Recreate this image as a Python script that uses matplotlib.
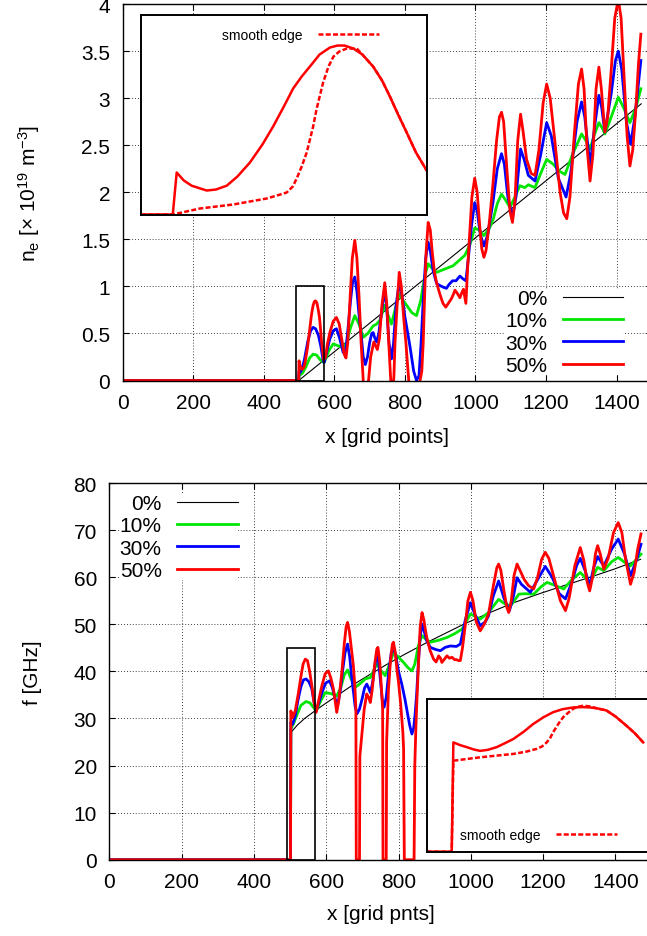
import matplotlib
matplotlib.use("Agg")
import matplotlib.pyplot as plt
from matplotlib.patches import Rectangle

plt.rcParams.update({
    "font.family": ["Liberation Sans", "DejaVu Sans"],
    "mathtext.fontset": "custom",
    "mathtext.rm": "Liberation Sans",
    "mathtext.it": "Liberation Sans:italic",
    "font.size": 15,
})

LABELS = ["0%", "10%", "30%", "50%"]
COLORS = ["black", "#00e600", "#0000ff", "#ff0000"]
WIDTHS = [0.8, 2.0, 2.0, 2.0]

# ---------------- top panel: density n_e ----------------
ne_x0 = [0, 499, 1470]
ne_0 = [0, 0, 2.94]

ne_x10 = [0, 499, 500, 510, 520, 530, 540, 550, 560, 571, 585, 597, 610, 625, 635, 645, 658,
          670, 682, 695, 710, 720, 729, 736, 743, 752, 762, 772, 784, 795, 805, 820, 833, 845,
          856, 866, 878, 890, 910, 937, 955, 970, 985, 998, 1010, 1024, 1040, 1051, 1062, 1074,
          1085, 1098, 1112, 1126, 1140, 1150, 1169, 1185, 1202, 1220, 1240, 1254, 1275, 1301,
          1313, 1325, 1338, 1350, 1360, 1367, 1385, 1405, 1420, 1438, 1455, 1469]
ne_10 = [0, 0, 0.05, 0.08, 0.15, 0.24, 0.28, 0.27, 0.22, 0.19, 0.32, 0.39, 0.37, 0.35, 0.40, 0.55, 0.69,
         0.60, 0.46, 0.50, 0.58, 0.60, 0.64, 0.72, 0.80, 0.70, 0.60, 0.75, 0.92, 0.85, 0.80, 0.72, 0.69, 0.85,
         1.10, 1.24, 1.19, 1.15, 1.18, 1.22, 1.28, 1.33, 1.45, 1.62, 1.60, 1.54, 1.62, 1.72, 1.88, 1.98,
         1.92, 1.84, 1.95, 2.07, 2.05, 2.08, 2.05, 2.20, 2.35, 2.30, 2.22, 2.19, 2.40, 2.62,
         2.55, 2.46, 2.62, 2.74, 2.68, 2.62, 2.80, 3.01, 2.90, 2.74, 2.90, 3.10]

ne_x30 = [0, 499, 500, 504, 508, 515, 525, 533, 540, 547, 555, 562, 568, 571, 578, 587, 597, 606,
          615, 625, 630, 634, 640, 646, 652, 658, 664, 670, 677, 682, 688, 694, 700, 706, 710, 715,
          720, 726, 733, 740, 743, 748, 755, 762, 768, 775, 784, 792, 800, 806, 815, 825, 833, 840,
          846, 852, 859, 866, 872, 880, 890, 899, 910, 918, 925, 935, 945, 956, 965, 973, 980,
          989, 998, 1005, 1014, 1024, 1035, 1050, 1062, 1074, 1082, 1092, 1105, 1115, 1128, 1138,
          1150, 1169, 1185, 1202, 1215, 1235, 1257, 1270, 1288, 1301, 1310, 1325, 1338, 1350,
          1358, 1367, 1385, 1397, 1405, 1415, 1428, 1440, 1452, 1462, 1469]
ne_30 = [0, 0, 0.10, 0.09, 0.12, 0.22, 0.42, 0.53, 0.565, 0.55, 0.48, 0.36, 0.22, 0.19, 0.30, 0.44, 0.53,
         0.55, 0.45, 0.30, 0.30, 0.37, 0.60, 0.85, 1.05, 1.10, 0.95, 0.70, 0.45, 0.25, 0.17, 0.25, 0.40,
         0.50, 0.51, 0.45, 0.41, 0.50, 0.70, 0.90, 0.94, 0.80, 0.40, 0.23, 0.40, 0.80, 1.04, 0.90, 0.68,
         0.55, 0.35, 0.10, 0.0, 0.05, 0.40, 0.85, 1.30, 1.47, 1.38, 1.17, 1.03, 1.01, 0.99, 0.98, 1.02,
         1.06, 1.06, 1.11, 1.08, 1.06, 1.30, 1.65, 1.89, 1.80, 1.55, 1.43, 1.55, 1.90, 2.25, 2.41,
         2.30, 1.95, 1.73, 1.95, 2.46, 2.35, 2.18, 2.12, 2.40, 2.74, 2.60, 2.15, 1.95, 2.20, 2.75,
         2.96, 2.80, 2.28, 2.70, 3.03, 2.90, 2.64, 3.05, 3.40, 3.50, 3.30, 2.75, 2.51, 2.80, 3.15, 3.40]

ne_x50 = [0, 499, 500, 502, 504, 508, 511, 514, 517, 520, 524, 527, 530, 533, 535, 537, 540, 543,
          545, 547, 550, 552, 555, 558, 560, 562, 564, 567, 570, 575, 580, 588, 597, 606, 614, 622,
          628, 633, 638, 645, 651, 658, 664, 670, 676, 682, 690, 697, 703, 712, 717, 722, 728, 735,
          743, 749, 755, 760, 766, 769, 772, 778, 784, 790, 797, 803, 810, 815, 828, 843, 848, 852,
          856, 860, 866, 872, 878, 884, 890, 899, 908, 916, 925, 932, 938, 942, 948, 956, 961, 966,
          973, 978, 984, 990, 998, 1005, 1012, 1018, 1024, 1030, 1040, 1050, 1060, 1068, 1074,
          1080, 1090, 1098, 1105, 1112, 1120, 1128, 1135, 1145, 1158, 1169, 1180, 1192, 1202,
          1212, 1225, 1240, 1250, 1259, 1268, 1280, 1292, 1301, 1308, 1316, 1325, 1333, 1342,
          1350, 1357, 1367, 1375, 1385, 1395, 1405, 1413, 1422, 1430, 1438, 1446, 1455, 1462, 1469]
ne_50 = [0, 0, 0.21, 0.17, 0.144, 0.12, 0.125, 0.144, 0.19, 0.26, 0.35, 0.44, 0.54, 0.63, 0.69, 0.74,
         0.80, 0.835, 0.845, 0.845, 0.83, 0.80, 0.74, 0.67, 0.59, 0.50, 0.41, 0.31, 0.22, 0.25, 0.38,
         0.52, 0.63, 0.67, 0.60, 0.42, 0.28, 0.24, 0.40, 0.90, 1.30, 1.49, 1.30, 0.90, 0.40, 0.0, -0.2,
         0.0, 0.25, 0.41, 0.37, 0.33, 0.45, 0.80, 1.04, 0.80, 0.35, 0.0, -0.1, 0.05, 0.40, 0.80, 1.15,
         1.00, 0.65, 0.40, 0.05, -0.2, -0.5, 0.0, 0.10, 0.40, 0.90, 1.35, 1.68, 1.60, 1.35, 1.15, 1.04,
         0.92, 0.82, 0.78, 0.83, 0.87, 0.92, 0.96, 0.93, 0.88, 0.93, 0.97, 0.82, 1.20, 1.57, 1.95,
         2.15, 2.00, 1.65, 1.40, 1.31, 1.38, 1.70, 2.10, 2.55, 2.80, 2.85, 2.75, 2.20, 1.80, 1.68,
         1.90, 2.55, 2.83, 2.65, 2.35, 2.20, 2.18, 2.45, 2.95, 3.15, 3.00, 2.55, 2.00, 1.78, 1.72,
         1.95, 2.60, 3.15, 3.31, 3.10, 2.50, 2.12, 2.40, 3.10, 3.33, 3.10, 2.64, 2.80, 3.30, 3.85,
         4.05, 3.85, 3.20, 2.60, 2.28, 2.45, 2.90, 3.35, 3.68]

# inset of the top panel (50% curve near the edge)
ne_in_x = [490, 498.9, 500, 502, 504.2, 508.4, 511, 514, 517, 520.5, 524, 527, 530, 532.6, 535,
           537.3, 540, 542.9, 545, 547, 549.5, 552, 555, 557.5, 559.7, 562, 564.4, 567, 570]
ne_in = [0, 0, 0.21, 0.17, 0.144, 0.12, 0.125, 0.144, 0.19, 0.26, 0.35, 0.44, 0.54, 0.63, 0.69,
         0.74, 0.80, 0.835, 0.845, 0.845, 0.83, 0.80, 0.74, 0.67, 0.59, 0.50, 0.41, 0.31, 0.22]
ne_in_sx = [490, 498.9, 506.5, 515.8, 525.2, 529, 530.8, 532.5, 533.6, 535, 536.4, 538.2, 539.2,
            541, 542.5, 543.9, 545.5, 547.6, 550.4, 552, 555, 557.5, 559.7, 562, 564.4, 567, 570]
ne_in_s = [0, 0, 0.03, 0.05, 0.08, 0.10, 0.11, 0.14, 0.18, 0.24, 0.31, 0.44, 0.53, 0.66, 0.74,
           0.79, 0.815, 0.83, 0.83, 0.80, 0.74, 0.67, 0.59, 0.50, 0.41, 0.31, 0.22]

# ---------------- bottom panel: frequency f ----------------
f_x0 = [0, 501, 502, 520, 540, 572, 600, 629, 675, 722, 768, 814, 880, 943, 980, 1050, 1119,
        1190, 1257, 1330, 1396, 1470]
f_0 = [0, 0, 27.0, 28.6, 30.0, 31.8, 33.3, 34.8, 37.2, 39.4, 41.5, 43.5, 46.2, 48.6, 50.0, 52.4,
       54.6, 56.5, 58.2, 60.0, 61.7, 63.8]

f_x10 = [0, 501, 502, 510, 520, 530, 544, 555, 565, 572, 585, 597, 612, 629, 640, 650, 659, 668,
         680, 695, 708, 722, 732, 740, 750, 763, 775, 786, 800, 814, 826, 837, 845, 855, 865, 876,
         888, 910, 934, 955, 976, 999, 1026, 1049, 1077, 1095, 1110, 1133, 1150, 1174, 1195,
         1211, 1235, 1257, 1280, 1303, 1316, 1329, 1351, 1368, 1390, 1408, 1425, 1442, 1471]
f_10 = [0, 0, 27.8, 29.0, 31.0, 32.8, 33.6, 33.3, 32.3, 31.6, 33.8, 35.5, 35.3, 34.8, 36.5, 39.3,
        40.3, 38.5, 36.6, 37.5, 38.4, 38.7, 40.3, 41.6, 40.3, 39.1, 41.5, 44.0, 43.0, 41.9, 40.8,
        40.1, 41.5, 45.5, 47.6, 46.8, 46.2, 46.6, 47.2, 48.0, 49.0, 52.2, 51.1, 52.5, 55.3, 54.3,
        53.9, 56.4, 56.5, 56.4, 58.0, 58.9, 58.2, 57.5, 59.5, 61.0, 60.0, 58.9, 62.1, 61.4, 63.3,
        64.2, 63.2, 62.4, 64.9]

f_x30 = [0, 501, 502, 507, 514, 522, 530, 537, 544, 552, 560, 566, 572, 580, 588, 598, 609, 617,
         625, 632, 638, 645, 652, 659, 665, 670, 675.5, 680, 685, 692, 699, 706, 712, 717, 722,
         728, 735, 740, 745, 750, 755, 760, 766, 773, 780, 786, 792, 800, 809, 818, 825, 831, 837,
         842, 846, 850, 855, 860, 865, 871, 878, 888, 898, 905, 916, 929, 943, 960, 971, 985,
         999, 1012, 1026, 1040, 1049, 1062, 1077, 1092, 1107, 1118, 1128, 1140, 1165, 1185, 1206,
         1225, 1245, 1262, 1280, 1293, 1303, 1316, 1329, 1340, 1351, 1368, 1390, 1408, 1425,
         1442, 1458, 1471]
f_30 = [0, 0, 29.2, 28.8, 30.5, 34.0, 36.8, 38.2, 38.4, 37.8, 36.3, 33.5, 31.6, 33.5, 35.5, 37.5,
        38.0, 36.5, 34.1, 33.1, 35.5, 40.0, 44.0, 45.8, 43.0, 39.0, 35.5, 32.5, 31.0, 32.0, 34.1,
        36.5, 37.3, 36.5, 35.5, 37.5, 41.5, 43.3, 42.0, 38.0, 34.0, 32.4, 34.5, 40.0, 44.0, 45.1,
        43.5, 40.0, 37.3, 34.0, 31.0, 28.5, 26.7, 28.0, 31.0, 35.0, 42.0, 47.5, 50.0, 48.5, 46.5,
        45.1, 44.8, 44.6, 44.4, 45.1, 45.4, 45.3, 45.8, 51.0, 54.6, 52.0, 49.7, 50.5, 51.8, 56.0,
        59.2, 55.5, 52.9, 56.0, 59.9, 58.5, 56.8, 59.5, 62.3, 60.0, 56.5, 55.4, 59.0, 62.5, 64.0,
        61.5, 58.2, 62.0, 64.4, 62.4, 66.0, 68.1, 65.0, 60.3, 63.5, 67.0]

f_x50 = [0, 501, 502, 507, 514, 522, 530, 536, 542, 548, 554, 560, 566, 572, 578, 588, 597, 606,
         613, 620, 625, 629, 635, 643, 650, 655, 659, 664, 670, 675, 679, 682, 683, 692, 693, 699,
         705, 712, 717, 722, 727, 734, 740, 743, 748, 753, 756, 757, 766, 767, 772, 778, 783, 786,
         791, 796, 800, 806, 812, 814, 816, 843, 845, 848, 851, 856, 860, 865, 870, 875, 879, 887,
         897, 904, 911, 916, 920, 927, 934, 941, 948, 955, 960, 966, 971, 977, 985, 992, 999,
         1006, 1015, 1026, 1037, 1049, 1062, 1072, 1077, 1083, 1092, 1100, 1105, 1112, 1120, 1128,
         1136, 1148, 1160, 1174, 1185, 1196, 1206, 1216, 1230, 1248, 1262, 1272, 1288, 1303,
         1313, 1322, 1329, 1337, 1345, 1351, 1358, 1368, 1380, 1395, 1408, 1418, 1428, 1442,
         1452, 1462, 1471]
f_50 = [0, 0, 31.6, 30.2, 31.6, 35.0, 39.0, 41.6, 42.6, 42.3, 40.0, 37.0, 33.5, 31.3, 33.5, 37.0,
        39.5, 40.1, 38.5, 36.2, 33.5, 31.3, 34.0, 39.8, 46.0, 49.5, 50.4, 48.5, 44.5, 41.2, 37.0, 32.0,
        0, 0, 22.0, 27.0, 32.0, 35.2, 34.5, 33.4, 36.0, 41.5, 44.8, 45.1, 42.0, 36.0, 32.0, 0, 0,
        25.0, 36.0, 42.5, 45.8, 46.2, 44.0, 40.0, 37.7, 33.0, 27.0, 23.5, 0, 0, 20.0, 28.0, 34.1,
        43.0, 49.5, 52.5, 51.0, 48.5, 46.9, 44.5, 42.6, 42.0, 43.3, 42.8, 41.9, 42.6, 43.3, 42.8,
        43.0, 42.5, 42.5, 42.3, 42.3, 45.0, 50.0, 55.0, 56.8, 55.0, 50.5, 48.6, 50.0, 52.2, 58.0,
        62.0, 62.8, 61.5, 57.0, 53.5, 52.5, 55.0, 60.5, 62.8, 61.5, 59.5, 58.2, 57.5, 60.0, 63.8,
        65.3, 64.0, 60.0, 55.0, 52.9, 55.5, 62.5, 66.3, 63.5, 59.0, 57.1, 60.0, 65.0, 66.7, 65.0,
        61.7, 64.0, 69.5, 71.6, 69.5, 64.0, 58.5, 61.0, 66.0, 69.2]

# inset of the bottom panel
f_in_x = [490, 499, 499.6, 502, 504.4, 507, 509.2, 512, 515.2, 518, 521.2, 525, 528.3, 532,
          535.5, 539, 542.7, 546, 548.7, 551.5, 554.7, 558, 561.9, 565, 567.9]
f_in = [0, 0, 32.2, 31.4, 30.8, 30.1, 29.7, 30.0, 30.8, 31.9, 33.2, 35.4, 37.6, 39.6, 41.1, 42.0,
        42.5, 42.6, 42.5, 42.2, 41.6, 39.8, 37.1, 34.8, 32.2]
f_in_sx = [490, 499, 499.6, 509.2, 521.2, 526, 529.6, 531.5, 533.2, 534.5, 535.5, 537.5, 539.1,
           541, 542.7, 544.5, 546.3, 548.7, 551.5, 554.7, 558, 561.9, 565, 567.9]
f_in_s = [0, 0, 26.8, 27.8, 28.8, 29.5, 30.3, 31.0, 32.2, 33.6, 35.2, 37.8, 39.6, 41.0, 42.1,
          42.7, 43.0, 42.8, 42.2, 41.6, 39.8, 37.1, 34.8, 32.2]

ZOOM_X = [490, 570]
NE_ZOOM_Y = [0, 1]
F_ZOOM_Y = [0, 45]


def style(ax, ylim, yticks):
    ax.set_xlim(0, 1500)
    ax.set_ylim(*ylim)
    ax.set_xticks(range(0, 1401, 200))
    ax.set_yticks(yticks)
    ax.set_yticklabels([f"{v:g}" for v in yticks])
    ax.tick_params(direction="in", length=4, top=True, right=True, pad=9, labelsize=15)
    ax.grid(True, color="black", linestyle=(0, (1, 2.5)), linewidth=0.6)
    ax.set_axisbelow(True)
    for s in ax.spines.values():
        s.set_linewidth(1.0)


def inset(fig, rect, xs, ys, sx, sy, ylim, legend_anchor):
    ia = fig.add_axes(rect)
    ia.plot(xs, ys, color="red", lw=1.8)
    ia.plot(sx, sy, color="red", lw=1.8, dashes=(2, 0.9), label="smooth edge")
    ia.set_xlim(*ZOOM_X)
    ia.set_ylim(*ylim)
    ia.set_xticks([])
    ia.set_yticks([])
    for s in ia.spines.values():
        s.set_linewidth(1.4)
    ia.legend(loc="center right", bbox_to_anchor=legend_anchor, frameon=False, markerfirst=False,
              borderpad=0, borderaxespad=0, handlelength=4.4, handletextpad=1.1, fontsize=10)
    return ia


def main_legend(ax, anchor):
    ax.legend(loc="upper right", bbox_to_anchor=anchor, markerfirst=False, borderpad=0,
              borderaxespad=0, handlelength=2.9, handletextpad=0.75, labelspacing=0.16,
              frameon=True, fancybox=False, framealpha=1, edgecolor="none", facecolor="white")


fig = plt.figure(figsize=(6.47, 9.37), dpi=100)

# top panel
ax1 = fig.add_axes([0.1896, 0.5928, 0.8178, 0.4018])
top_series = [(ne_x0, ne_0), (ne_x10, ne_10), (ne_x30, ne_30), (ne_x50, ne_50)]
for (xs, ys), lab, c, w in zip(top_series, LABELS, COLORS, WIDTHS):
    ax1.plot(xs, ys, color=c, lw=w, label=lab)
ax1.add_patch(Rectangle((ZOOM_X[0], NE_ZOOM_Y[0]), ZOOM_X[1] - ZOOM_X[0],
                        NE_ZOOM_Y[1] - NE_ZOOM_Y[0], fill=False, ec="black", lw=1.2, zorder=3))
style(ax1, (0, 4), [0, 0.5, 1, 1.5, 2, 2.5, 3, 3.5, 4])
ax1.set_xlabel("x [grid points]")
ax1.xaxis.set_label_coords(0.5, -0.123)
ax1.set_ylabel(r"n$_{\rm e}$ [$\times$ 10$^{19}$ m$^{-3}$]")
ax1.yaxis.set_label_coords(-0.152, 0.5)
main_legend(ax1, (0.946, 0.243))

inset(fig, [0.2179, 0.7700, 0.4416, 0.2134], ne_in_x, ne_in, ne_in_sx, ne_in_s,
      NE_ZOOM_Y, (0.833, 0.8975))

# bottom panel
ax2 = fig.add_axes([0.1692, 0.0814, 0.8377, 0.4020])
bot_series = [(f_x0, f_0), (f_x10, f_10), (f_x30, f_30), (f_x50, f_50)]
for (xs, ys), lab, c, w in zip(bot_series, LABELS, COLORS, WIDTHS):
    ax2.plot(xs, ys, color=c, lw=w, label=lab)
ax2.add_patch(Rectangle((ZOOM_X[0], F_ZOOM_Y[0]), ZOOM_X[1] - ZOOM_X[0],
                        F_ZOOM_Y[1] - F_ZOOM_Y[0], fill=False, ec="black", lw=1.2, zorder=3))
style(ax2, (0, 80), list(range(0, 81, 10)))
ax2.set_xlabel("x [grid pnts]")
ax2.xaxis.set_label_coords(0.5, -0.117)
ax2.set_ylabel("f [GHz]")
ax2.yaxis.set_label_coords(-0.125, 0.5)
main_legend(ax2, (0.2367, 0.971))

inset(fig, [0.6595, 0.0900, 0.3436, 0.1630], f_in_x, f_in, f_in_sx, f_in_s,
      F_ZOOM_Y, (0.857, 0.109))

fig.savefig("out.png", dpi=100)
